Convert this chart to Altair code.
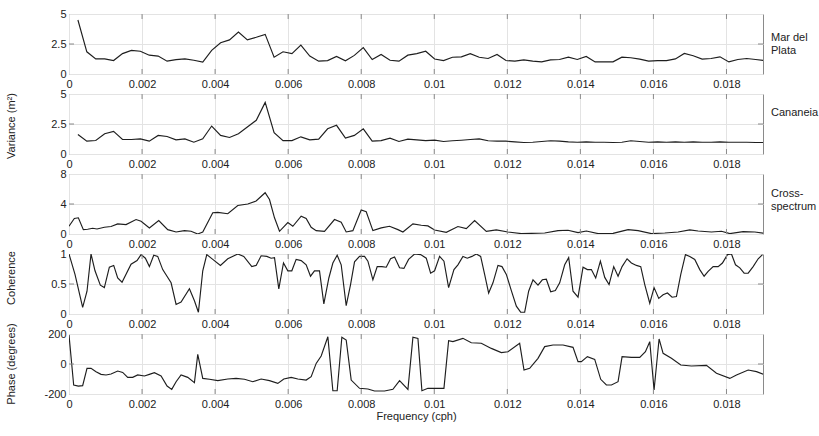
import altair as alt
import pandas as pd

FONT = "Liberation Sans"
X_TICKS = [0, 0.002, 0.004, 0.006, 0.008, 0.01, 0.012, 0.014, 0.016, 0.018]

# spectral estimates on a 1/4096 cph grid
FREQ_GRID = [k / 4096 for k in range(1, 79)]
MDP_VAR = [4.5, 1.85, 1.26, 1.26, 1.12, 1.7, 1.97, 1.9, 1.57, 1.49,
           1.07, 1.2, 1.26, 1.15, 1.0, 1.97, 2.6, 2.84, 3.5, 2.84,
           3.06, 3.3, 1.4, 1.85, 1.7, 2.4, 1.49, 1.07, 1.12, 1.46,
           1.1, 1.55, 2.2, 1.2, 1.63, 1.15, 1.07, 1.57, 1.7, 1.9,
           1.25, 1.12, 1.40, 1.43, 1.69, 1.40, 1.29, 1.63, 1.12, 1.07,
           1.18, 1.07, 1.01, 1.18, 1.21, 1.40, 1.21, 1.46, 1.01, 1.01,
           1.01, 1.40, 1.35, 1.24, 1.07, 1.12, 1.12, 1.26, 1.71, 1.52,
           1.24, 1.29, 1.43, 1.01, 1.21, 1.29, 1.21, 1.12]
CAN_VAR = [1.63, 1.07, 1.12, 1.69, 1.88, 1.21, 1.21, 1.26, 1.07, 1.55,
           1.46, 1.18, 1.26, 0.98, 1.26, 2.33, 1.55, 1.38, 1.69, 2.25,
           2.81, 4.3, 1.77, 1.12, 1.12, 1.43, 1.18, 1.24, 2.1, 2.39,
           1.32, 1.55, 2.1, 1.07, 1.12, 1.32, 1.04, 1.24, 1.18, 1.12,
           1.15, 1.04, 1.1, 1.15, 1.21, 1.26, 1.1, 1.07, 1.07, 1.01,
           0.96, 0.98, 1.04, 1.1, 1.07, 1.01, 0.98, 1.01, 0.98, 0.98,
           0.96, 0.98, 1.1, 1.04, 0.98, 1.01, 0.98, 1.01, 0.98, 1.01,
           0.98, 0.98, 1.01, 0.98, 0.98, 0.98, 0.96, 0.96]

CROSS_F = [0.0, 0.000146, 0.000256, 0.000393, 0.000511, 0.000648, 0.000767, 0.000968, 0.001151, 0.001333,
           0.001562, 0.001836, 0.001973, 0.002201, 0.002457, 0.002703, 0.002932, 0.00316, 0.003342, 0.003525,
           0.003662, 0.003936, 0.004073, 0.004347, 0.004621, 0.004895, 0.005123, 0.00537, 0.005489, 0.005626,
           0.005763, 0.005991, 0.006128, 0.006356, 0.006493, 0.00663, 0.006767, 0.006995, 0.007269, 0.007452,
           0.007589, 0.007772, 0.008, 0.008137, 0.00832, 0.008548, 0.008776, 0.009005, 0.009142, 0.009416,
           0.009644, 0.009826, 0.010009, 0.010329, 0.010648, 0.010877, 0.011105, 0.011425, 0.011699, 0.012018,
           0.012384, 0.012658, 0.013023, 0.013388, 0.013662, 0.013936, 0.014164, 0.014484, 0.014895, 0.015306,
           0.01558, 0.015945, 0.01631, 0.016676, 0.016995, 0.017224, 0.017589, 0.017863, 0.018091, 0.018457,
           0.018776, 0.019023]
CROSS_V = [1.03, 2.07, 2.16, 0.58, 0.63, 0.76, 0.67, 0.9, 1.0, 1.35,
           1.26, 1.93, 1.7, 0.81, 1.8, 0.58, 0.27, 0.45, 0.36, 0.0,
           0.27, 2.83, 2.88, 2.7, 3.8, 4.0, 4.4, 5.5, 4.6, 2.16,
           0.36, 1.53, 1.03, 2.38, 2.07, 0.9, 0.45, 0.36, 1.93, 1.57,
           0.27, 0.45, 3.19, 2.97, 0.45, 0.81, 1.03, 0.58, 0.27, 1.35,
           1.17, 1.08, 0.54, 0.22, 1.0, 0.72, 1.8, 0.36, 0.54, 0.27,
           0.05, 0.09, 0.13, 0.45, 0.5, 0.18, 0.4, 0.05, 0.09, 0.58,
           0.45, 0.05, 0.13, 0.27, 0.54, 0.4, 0.27, 0.36, 0.05, 0.31,
           0.27, 0.09]

COH_F = [0.0, 0.000164, 0.000374, 0.000493, 0.000603, 0.000712, 0.000858, 0.000968, 0.001105, 0.001224,
         0.001333, 0.001452, 0.001699, 0.001863, 0.001973, 0.002091, 0.002201, 0.00232, 0.002429, 0.002566,
         0.002795, 0.002932, 0.003068, 0.003297, 0.003434, 0.003543, 0.003662, 0.003772, 0.003936, 0.004146,
         0.004347, 0.004621, 0.004785, 0.005005, 0.005123, 0.00526, 0.005416, 0.005534, 0.005626, 0.005744,
         0.005872, 0.005991, 0.0061, 0.006219, 0.006356, 0.006493, 0.006612, 0.006721, 0.006858, 0.006977,
         0.007114, 0.007224, 0.007342, 0.007452, 0.007589, 0.007708, 0.007817, 0.007954, 0.008091, 0.008183,
         0.00832, 0.008438, 0.008566, 0.008685, 0.008804, 0.008913, 0.00905, 0.009169, 0.009297, 0.009461,
         0.009626, 0.009781, 0.0099, 0.010009, 0.010146, 0.010265, 0.010393, 0.010539, 0.010648, 0.010785,
         0.010904, 0.011032, 0.011151, 0.01127, 0.011379, 0.011489, 0.011607, 0.011744, 0.011854, 0.011973,
         0.01211, 0.012247, 0.012365, 0.012475, 0.012584, 0.012703, 0.01284, 0.012959, 0.013068, 0.013187,
         0.013315, 0.013434, 0.013571, 0.01368, 0.013799, 0.013936, 0.014073, 0.014192, 0.014301, 0.01442,
         0.014548, 0.014667, 0.014785, 0.014913, 0.015032, 0.015142, 0.015279, 0.015397, 0.015534, 0.015653,
         0.015763, 0.0159, 0.016018, 0.016146, 0.016265, 0.016384, 0.016511, 0.01663, 0.016749, 0.016877,
         0.016995, 0.017132, 0.017269, 0.017388, 0.017498, 0.017635, 0.017772, 0.01789, 0.018027, 0.018137,
         0.018247, 0.018365, 0.018484, 0.018594, 0.01873, 0.018868, 0.018986]
COH_V = [1.0, 0.66, 0.11, 0.38, 1.0, 0.72, 0.48, 0.44, 0.78, 0.81,
         0.6, 0.53, 0.83, 0.89, 0.99, 0.93, 0.79, 0.98, 0.96, 0.74,
         0.52, 0.16, 0.2, 0.42, 0.22, 0.03, 0.72, 0.99, 0.91, 0.81,
         0.92, 1.0, 0.96, 0.79, 0.81, 0.97, 0.96, 0.93, 0.94, 0.42,
         0.85, 0.72, 0.72, 0.91, 0.89, 0.82, 0.63, 0.72, 0.72, 0.17,
         0.6, 0.85, 0.98, 0.82, 0.14, 0.49, 0.87, 0.96, 0.96, 0.88,
         0.57, 0.79, 0.79, 0.78, 0.92, 0.95, 0.77, 0.76, 0.91, 1.0,
         0.99, 0.93, 0.68, 0.72, 0.96, 0.88, 0.44, 0.74, 0.82, 0.96,
         0.93, 0.96, 1.0, 0.96, 0.66, 0.35, 0.52, 0.81, 0.79, 0.66,
         0.39, 0.13, 0.03, 0.03, 0.38, 0.57, 0.48, 0.57, 0.58, 0.37,
         0.39, 0.52, 0.82, 0.94, 0.38, 0.28, 0.78, 0.74, 0.74, 0.6,
         0.88, 0.61, 0.49, 0.79, 0.63, 0.79, 0.92, 0.85, 0.81, 0.79,
         0.49, 0.18, 0.44, 0.26, 0.32, 0.35, 0.28, 0.29, 0.66, 0.99,
         0.96, 0.91, 0.74, 0.63, 0.71, 0.79, 0.79, 0.85, 0.99, 1.0,
         0.82, 0.77, 0.68, 0.68, 0.79, 0.92, 0.99]

PH_F = [0.0, 0.000128, 0.000256, 0.000374, 0.000493, 0.000603, 0.00074, 0.000877, 0.001014, 0.001151,
        0.001333, 0.00147, 0.001607, 0.001744, 0.001881, 0.002064, 0.002201, 0.002338, 0.002521, 0.002685,
        0.002813, 0.002932, 0.003068, 0.003251, 0.003434, 0.003525, 0.003662, 0.003845, 0.004073, 0.004347,
        0.004575, 0.004804, 0.005032, 0.00526, 0.005489, 0.005717, 0.005881, 0.006082, 0.006265, 0.006493,
        0.00663, 0.006767, 0.006904, 0.007087, 0.007224, 0.007342, 0.00747, 0.007589, 0.007726, 0.007954,
        0.008183, 0.008365, 0.008639, 0.008868, 0.00905, 0.009279, 0.009416, 0.009553, 0.009662, 0.009826,
        0.010009, 0.010265, 0.010393, 0.010511, 0.010785, 0.011014, 0.011288, 0.011562, 0.011836, 0.012018,
        0.012338, 0.012457, 0.012612, 0.01284, 0.013023, 0.013251, 0.013525, 0.013799, 0.013936, 0.014027,
        0.014192, 0.014393, 0.014557, 0.014712, 0.01485, 0.015032, 0.015142, 0.015397, 0.015626, 0.015781,
        0.0159, 0.016018, 0.016155, 0.016265, 0.016493, 0.016749, 0.017041, 0.017452, 0.017726, 0.018091,
        0.018274, 0.018594, 0.018822, 0.019023]
PH_V = [193, -140, -147, -144, -29, -29, -51, -69, -73, -67,
        -47, -56, -89, -89, -73, -80, -69, -58, -80, -147,
        -169, -118, -73, -89, -124, 64, -96, -102, -111, -100,
        -96, -102, -118, -100, -111, -129, -100, -89, -100, -107,
        -84, 4, 53, 182, -178, -178, 178, 160, -107, -162,
        -167, -180, -180, -169, -111, -169, 178, 171, -178, -162,
        -162, -162, 156, 149, 171, 142, 138, 104, 76, 82,
        138, -40, -29, 38, 116, 127, 127, 111, 16, 16,
        49, 31, -102, -140, -140, -118, 49, 44, 44, 82,
        149, -173, 167, 71, 38, -7, -13, -9, -62, -96,
        -73, -40, -51, -69]

W, H = 694, 60
INK = "#1e1e1e"
FRAME = "#8a8a8a"
GRID = "#e3e3e3"


def panel(f, v, ydom, yticks, label, label_y, side_title=None, side_y=None, bottom=False):
    df = pd.DataFrame({"f": f, "v": v})
    xscale = alt.Scale(domain=[0, 0.019], nice=False, zero=False)
    yscale = alt.Scale(domain=ydom, nice=False, zero=False)
    xaxis = alt.Axis(values=X_TICKS, labelExpr="'' + datum.value", grid=True, gridColor=GRID,
                     domain=False, ticks=False, labelPadding=4, labelFlush=False,
                     labelOverlap=False,
                     title="Frequency (cph)" if bottom else None, titlePadding=1)
    yaxis = alt.Axis(values=yticks, labelExpr="'' + datum.value", grid=True, gridColor=GRID,
                     domain=False, ticks=False, labelPadding=3, labelFlush=False,
                     labelOverlap=False, title=None)
    X = alt.X("f:Q", scale=xscale, axis=xaxis)
    Y = alt.Y("v:Q", scale=yscale, axis=yaxis)
    line = alt.Chart(df).mark_line(color=INK, strokeWidth=1.15, clip=True).encode(
        x=X, y=Y, order="f:Q",
    )
    xt = pd.DataFrame({"f": X_TICKS[1:]})
    top_t = alt.Chart(xt).mark_rule(color=FRAME, strokeWidth=1).encode(
        x=X, y=alt.value(0), y2=alt.value(5))
    bot_t = alt.Chart(xt).mark_rule(color=FRAME, strokeWidth=1).encode(
        x=X, y=alt.value(H - 5), y2=alt.value(H))
    mid = pd.DataFrame({"v": [yticks[1]]})
    left_t = alt.Chart(mid).mark_rule(color=FRAME, strokeWidth=1).encode(
        y=Y, x=alt.value(0), x2=alt.value(5))
    right_t = alt.Chart(mid).mark_rule(color=FRAME, strokeWidth=1).encode(
        y=Y, x=alt.value(W - 5), x2=alt.value(W))
    lab = alt.Chart(pd.DataFrame({"t": [label]})).mark_text(
        align="left", baseline="middle", font=FONT, fontSize=11, color="#222",
        lineBreak="\n", lineHeight=13).encode(
        text="t:N", x=alt.value(702), y=alt.value(label_y))
    layers = [line, top_t, bot_t, left_t, right_t, lab]
    if side_title:
        st = alt.Chart(pd.DataFrame({"t": [side_title]})).mark_text(
            align="center", baseline="middle", angle=270, font=FONT, fontSize=11,
            color="#222").encode(text="t:N", x=alt.value(-57), y=alt.value(side_y))
        layers.append(st)
    return alt.layer(*layers).properties(width=W, height=H)


p1 = panel(FREQ_GRID, MDP_VAR, [0, 5], [0, 2.5, 5], "Mar del\nPlata", 24)
p2 = panel(FREQ_GRID, CAN_VAR, [0, 5], [0, 2.5, 5], "Cananeia", 19,
           "Variance (m²)", 32)
p3 = panel(CROSS_F, CROSS_V, [0, 8], [0, 4, 8], "Cross-\nspectrum", 20)
p4 = panel(COH_F, COH_V, [0, 1], [0, 0.5, 1], "", 20, "Coherence", 24)
p5 = panel(PH_F, PH_V, [-200, 200], [-200, 0, 200], "", 20, "Phase (degrees)", 30,
           bottom=True)

chart = alt.vconcat(p1, p2, p3, p4, p5, spacing=20, bounds="flush").configure_view(
    stroke=FRAME, strokeWidth=1
).configure_axis(
    labelFont=FONT, labelFontSize=11, labelColor="#222",
    titleFont=FONT, titleFontSize=11, titleFontWeight="normal", titleColor="#222"
).properties(
    padding={"left": 5, "top": 7, "right": 0, "bottom": 5},
    background="white"
)

chart.save("out.html", embed_options={"renderer": "svg", "actions": False})
